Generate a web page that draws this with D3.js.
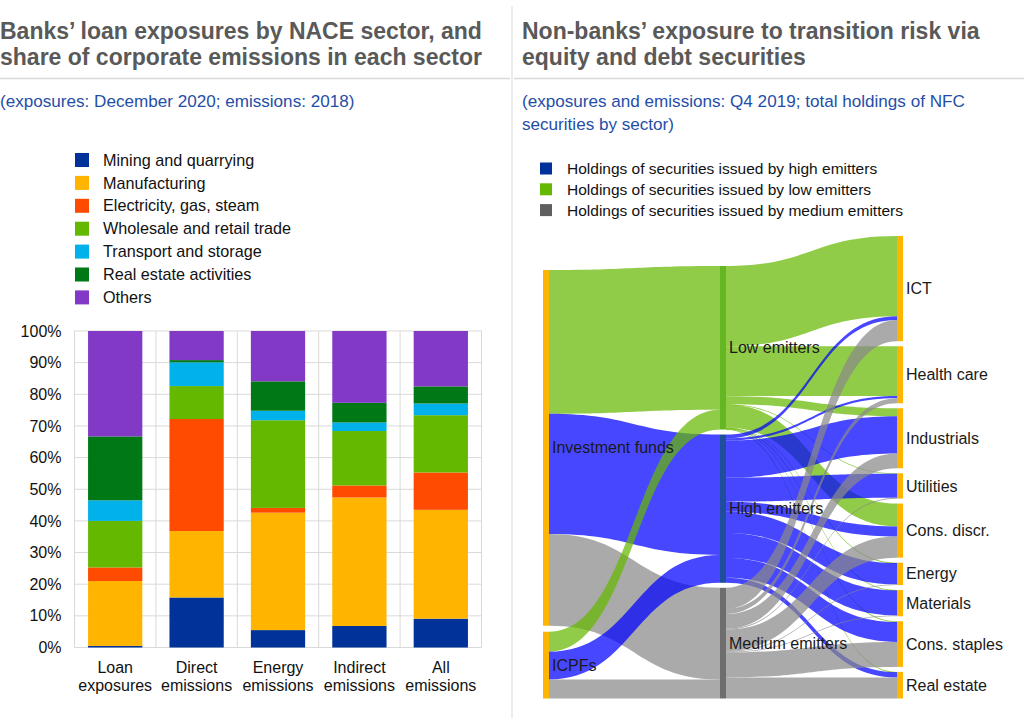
<!DOCTYPE html>
<html>
<head>
<meta charset="utf-8">
<script src="https://cdn.jsdelivr.net/npm/d3@7"></script>
<style>
  html, body { margin: 0; padding: 0; background: #fff; }
  svg { display: block; font-family: "Liberation Sans", Arial, sans-serif; }
</style>
</head>
<body>
<svg id="chart" width="1024" height="718"></svg>
<script>
// ---------------- Left panel data (shares, %) ----------------
const categories = ["Loan exposures", "Direct emissions", "Energy emissions", "Indirect emissions", "All emissions"];
const naceSectors = ["Mining and quarrying", "Manufacturing", "Electricity, gas, steam",
  "Wholesale and retail trade", "Transport and storage", "Real estate activities", "Others"];
const naceColors = ["#003299", "#FFB400", "#FF4B00", "#65B800", "#00B1EA", "#007816", "#8139C6"];
const mining      = [0.5, 15.8, 5.5, 6.8, 9.1];
const manufacture = [20.5, 21.0, 37.1, 40.6, 34.4];
const electricity = [4.3, 35.4, 1.5, 3.8, 11.8];
const wholesale   = [14.7, 10.4, 27.7, 17.2, 18.1];
const transport   = [6.5, 7.5, 3.0, 2.7, 3.7];
const realEstate  = [20.2, 0.7, 9.3, 6.2, 5.4];
const others      = [33.3, 9.2, 15.9, 22.7, 17.5];
const yTicks = [0, 10, 20, 30, 40, 50, 60, 70, 80, 90, 100];

// ---------------- Right panel data (share of total holdings, %) ----------------
const fundNodes = ["Investment funds", "ICPFs"];
const emitterNodes = ["Low emitters", "High emitters", "Medium emitters"];
const sectorNodes = ["ICT", "Health care", "Industrials", "Utilities", "Cons. discr.",
  "Energy", "Materials", "Cons. staples", "Real estate"];
// rows: funds; columns: Low, High, Medium emitters
const investmentFundsToEmitters = [34.0, 28.5, 21.7];
const icpfsToEmitters = [4.7, 6.6, 4.5];
// emitters -> sectors (order as sectorNodes)
const lowToSectors    = [19.0, 11.8, 1.9, 0.1, 5.4, 0.1, 0.1, 0.2, 0.1];
const highToSectors   = [0.9, 0.5, 8.8, 5.7, 2.4, 5.0, 5.9, 4.7, 1.2];
const mediumToSectors = [5.0, 1.2, 3.5, 0.2, 5.0, 0.2, 0.2, 5.9, 5.0];
const legendRight = ["Holdings of securities issued by high emitters",
  "Holdings of securities issued by low emitters",
  "Holdings of securities issued by medium emitters"];
const legendRightColors = ["#003299", "#65B800", "#5f5f5f"];

const svg = d3.select("#chart");
const FONT = "'Liberation Sans', Arial, sans-serif";

// ---------------- Frames, titles ----------------
svg.append("line").attr("x1", 512).attr("x2", 512).attr("y1", 6).attr("y2", 718)
  .attr("stroke", "#d9d9d9").attr("stroke-width", 1);
svg.append("line").attr("x1", 0).attr("x2", 510).attr("y1", 78.5).attr("y2", 78.5)
  .attr("stroke", "#d9d9d9").attr("stroke-width", 1.5);
svg.append("line").attr("x1", 514).attr("x2", 1024).attr("y1", 78.5).attr("y2", 78.5)
  .attr("stroke", "#d9d9d9").attr("stroke-width", 1.5);

function multiText(x, y, lines, size, color, weight, lh) {
  const t = svg.append("text").attr("x", x).attr("y", y)
    .attr("font-size", size).attr("fill", color).attr("font-weight", weight);
  lines.forEach((l, i) => t.append("tspan").attr("x", x).attr("dy", i === 0 ? 0 : lh).text(l));
  return t;
}
multiText(0, 38.5, ["Banks\u2019 loan exposures by NACE sector, and", "share of corporate emissions in each sector"],
  23, "#595959", "bold", 26);
multiText(522, 38.5, ["Non-banks\u2019 exposure to transition risk via", "equity and debt securities"],
  23, "#595959", "bold", 26);
multiText(0, 107, ["(exposures: December 2020; emissions: 2018)"], 17.1, "#1f4ea8", "normal", 22);
multiText(522, 107, ["(exposures and emissions: Q4 2019; total holdings of NFC", "securities by sector)"],
  17.1, "#1f4ea8", "normal", 22.5);

// ---------------- Left legend ----------------
const legL = svg.append("g");
naceSectors.forEach((s, i) => {
  const cy = 160 + i * 22.9;
  legL.append("rect").attr("x", 75).attr("y", cy - 7).attr("width", 14).attr("height", 14).attr("fill", naceColors[i]);
  legL.append("text").attr("x", 103).attr("y", cy).attr("dy", "0.35em").attr("font-size", 16.2)
    .attr("fill", "#111").text(s);
});

// ---------------- Left stacked bar chart ----------------
const seriesArrays = [mining, manufacture, electricity, wholesale, transport, realEstate, others];
const table = categories.map((c, i) => {
  const row = { category: c };
  naceSectors.forEach((s, j) => row[s] = seriesArrays[j][i]);
  return row;
});
const x = d3.scaleBand().domain(categories).range([74.5, 481.5]).paddingInner(1 / 3).paddingOuter(1 / 6);
const y = d3.scaleLinear().domain([0, 100]).range([647.5, 331]);

const grid = svg.append("g");
grid.selectAll("line.h").data(yTicks).join("line")
  .attr("x1", 74.5).attr("x2", 481.5).attr("y1", d => y(d)).attr("y2", d => y(d))
  .attr("stroke", "#d9d9d9").attr("stroke-width", 1);
const bounds = [74.5].concat(categories.map(c => x(c) + x.bandwidth() + x.step() * (1 / 6)));
grid.selectAll("line.v").data(bounds).join("line")
  .attr("x1", d => d).attr("x2", d => d).attr("y1", y(100)).attr("y2", y(0))
  .attr("stroke", "#d9d9d9").attr("stroke-width", 1);

const stacked = d3.stack().keys(naceSectors)(table);
svg.append("g").selectAll("g").data(stacked).join("g")
  .attr("fill", (d, i) => naceColors[i])
  .selectAll("rect").data(d => d).join("rect")
  .attr("x", d => x(d.data.category)).attr("width", x.bandwidth())
  .attr("y", d => y(d[1])).attr("height", d => y(d[0]) - y(d[1]));

const yAxis = svg.append("g").attr("transform", "translate(74.5,0)")
  .call(d3.axisLeft(y).tickValues(yTicks).tickFormat(d => d + "%").tickSize(0).tickPadding(13));
yAxis.select(".domain").remove();
yAxis.selectAll("text").attr("font-size", 16).attr("font-family", FONT).attr("fill", "#111");

const xAxis = svg.append("g").attr("transform", `translate(0,${y(0)})`)
  .call(d3.axisBottom(x).tickSize(0).tickFormat(""));
xAxis.select(".domain").remove();
xAxis.selectAll(".tick").each(function (d) {
  const parts = d.split(" ");
  const t = d3.select(this).append("text").attr("fill", "#111").attr("font-size", 16)
    .attr("font-family", FONT).attr("text-anchor", "middle").attr("y", 25);
  parts.forEach((p, i) => t.append("tspan").attr("x", 0).attr("dy", i === 0 ? 0 : 18.5).text(p));
});

// ---------------- Right legend ----------------
legendRight.forEach((s, i) => {
  const cy = 168.5 + i * 20.8;
  svg.append("rect").attr("x", 540).attr("y", cy - 6).attr("width", 12).attr("height", 12).attr("fill", legendRightColors[i]);
  svg.append("text").attr("x", 567).attr("y", cy).attr("dy", "0.35em").attr("font-size", 15.5)
    .attr("fill", "#111").text(s);
});

// ---------------- Sankey (custom layout with D3 scales) ----------------
const linkColors = ["rgba(101,184,0,0.72)", "rgba(0,0,255,0.72)", "rgba(137,137,137,0.72)"];
const emitterNodeColors = ["#64b623", "#1f4f9c", "#6e6e6e"];
const nodes = [];
fundNodes.forEach(n => nodes.push({ name: n, col: 0 }));
emitterNodes.forEach(n => nodes.push({ name: n, col: 1 }));
sectorNodes.forEach(n => nodes.push({ name: n, col: 2 }));
const byName = new Map(nodes.map(n => [n.name, n]));
const links = [];
[investmentFundsToEmitters, icpfsToEmitters].forEach((row, i) =>
  row.forEach((v, j) => links.push({ source: byName.get(fundNodes[i]), target: byName.get(emitterNodes[j]), value: v, color: linkColors[j] })));
[lowToSectors, highToSectors, mediumToSectors].forEach((row, i) =>
  row.forEach((v, j) => links.push({ source: byName.get(emitterNodes[i]), target: byName.get(sectorNodes[j]), value: v, color: linkColors[i] })));

nodes.forEach(n => {
  n.out = links.filter(l => l.source === n);
  n.in = links.filter(l => l.target === n);
  n.value = Math.max(d3.sum(n.out, l => l.value), d3.sum(n.in, l => l.value));
});
const colX = d3.scaleOrdinal().domain([0, 1, 2]).range([543, 720, 897]);
const nodeW = 6;
const colPad = [6, 5, 5];
const sankeyTop = 236, sankeyBottom = 698.5;
const cols = [0, 1, 2].map(c => nodes.filter(n => n.col === c));
// value -> pixel scale set by the densest column (sector column)
const kScale = d3.scaleLinear()
  .domain([0, d3.sum(cols[2], n => n.value)])
  .range([0, (sankeyBottom - sankeyTop) - (cols[2].length - 1) * colPad[2]]);
cols.forEach((col, c) => {
  const total = kScale(d3.sum(col, n => n.value)) + (col.length - 1) * colPad[c];
  let yy = sankeyBottom - total;
  col.forEach(n => {
    n.x0 = colX(c); n.x1 = n.x0 + nodeW;
    n.y0 = yy; n.y1 = yy + kScale(n.value);
    yy = n.y1 + colPad[c];
  });
});
nodes.forEach(n => {
  let sy = n.y0;
  n.out.slice().sort((a, b) => a.target.y0 - b.target.y0).forEach(l => { l.sy0 = sy; sy += kScale(l.value); l.sy1 = sy; });
  let ty = n.y0;
  n.in.slice().sort((a, b) => a.source.y0 - b.source.y0).forEach(l => { l.ty0 = ty; ty += kScale(l.value); l.ty1 = ty; });
});
function ribbon(l) {
  const x0 = l.source.x1, x1 = l.target.x0, xm = (x0 + x1) / 2;
  let sy1 = l.sy1, ty1 = l.ty1;
  if (sy1 - l.sy0 < 0.9) { sy1 = l.sy0 + 0.9; ty1 = l.ty0 + 0.9; }
  const p = d3.path();
  p.moveTo(x0, l.sy0);
  p.bezierCurveTo(xm, l.sy0, xm, l.ty0, x1, l.ty0);
  p.lineTo(x1, ty1);
  p.bezierCurveTo(xm, ty1, xm, sy1, x0, sy1);
  p.closePath();
  return p.toString();
}
svg.append("g").selectAll("path").data(links).join("path")
  .attr("d", ribbon).attr("fill", d => d.color);

svg.append("g").selectAll("rect").data(nodes).join("rect")
  .attr("x", d => d.x0).attr("y", d => d.y0).attr("width", nodeW).attr("height", d => d.y1 - d.y0)
  .attr("fill", d => d.col === 1 ? emitterNodeColors[emitterNodes.indexOf(d.name)] : "#FFB400");

svg.append("g").selectAll("text").data(nodes).join("text")
  .attr("x", d => d.x1 + 3).attr("y", d => (d.y0 + d.y1) / 2).attr("dy", "0.35em")
  .attr("font-size", 16).attr("fill", "#1a1a1a").text(d => d.name);
</script>
</body>
</html>
